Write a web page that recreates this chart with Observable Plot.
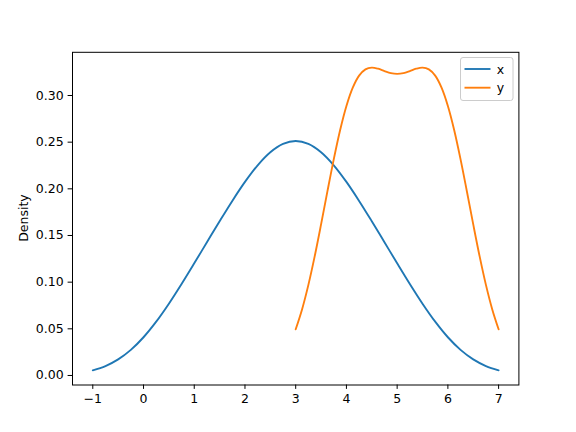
<!DOCTYPE html>
<html><head><meta charset="utf-8">
<script src="https://cdn.jsdelivr.net/npm/d3@7"></script>
<script src="https://cdn.jsdelivr.net/npm/@observablehq/plot@0.6"></script>
<style>body{margin:0;background:#fff} svg{font-family:"DejaVu Sans",sans-serif}</style>
</head><body><div id="chart"></div>
<script>
const xGrid = [-1,-0.75,-0.5,-0.25,0,0.25,0.5,0.75,1,1.25,1.5,1.75,2,2.25,2.5,2.75,3,3.25,3.5,3.75,4,4.25,4.5,4.75,5,5.25,5.5,5.75,6,6.25,6.5,6.75,7];
const xDensity = [0.00555,0.01013,0.01725,0.02745,0.04097,0.05766,0.07694,0.09805,0.12020,0.14277,0.16525,0.18708,0.20744,0.22524,0.23920,0.24814,0.25122,0.24814,0.23920,0.22524,0.20744,0.18708,0.16525,0.14277,0.12020,0.09805,0.07694,0.05766,0.04097,0.02745,0.01725,0.01013,0.00555];
const yGrid = [3,3.125,3.25,3.375,3.5,3.625,3.75,3.875,4,4.125,4.25,4.375,4.5,4.625,4.75,4.875,5,5.125,5.25,5.375,5.5,5.625,5.75,5.875,6,6.125,6.25,6.375,6.5,6.625,6.75,6.875,7];
const yDensity = [0.04948,0.07076,0.09708,0.12787,0.16186,0.19720,0.23161,0.26280,0.28881,0.30843,0.32132,0.32804,0.32993,0.32871,0.32622,0.32403,0.32318,0.32403,0.32622,0.32871,0.32993,0.32804,0.32132,0.30843,0.28881,0.26280,0.23161,0.19720,0.16186,0.12787,0.09708,0.07076,0.04948];
const seriesNames = ["x","y"];
const seriesColors = ["#1f77b4","#ff7f0e"];
const xTicks = [-1,0,1,2,3,4,5,6,7];
const yTicks = [0,0.05,0.10,0.15,0.20,0.25,0.30];
const yLabel = "Density";

const rows = [
  ...xGrid.map((g,i)=>({series:"x", t:g, d:xDensity[i]})),
  ...yGrid.map((g,i)=>({series:"y", t:g, d:yDensity[i]}))
];

const plot = Plot.plot({
  width:576, height:432,
  marginLeft:72, marginRight:57.6, marginTop:51.8, marginBottom:47.5,
  style:{fontFamily:"DejaVu Sans, sans-serif", fontSize:"12.5px", background:"white", color:"black"},
  x:{domain:[-1.4,7.4]},
  y:{domain:[-0.0102,0.3463]},
  color:{domain:seriesNames, range:seriesColors},
  marks:[
    Plot.line(rows,{x:"t", y:"d", stroke:"series", z:"series", strokeWidth:1.875, curve:"catmull-rom"}),
    Plot.frame({stroke:"black", strokeWidth:1}),
    Plot.axisX({ticks:xTicks, tickSize:4.4, tickPadding:4.4, label:null, fontSize:12.5,
      tickFormat:d=> d<0 ? "\u2212"+Math.abs(d) : String(d)}),
    Plot.axisY({ticks:yTicks, tickSize:4.4, tickPadding:4.4, label:null, fontSize:12.5,
      tickFormat:d=>d.toFixed(2)})
  ]
});

const svg = d3.select(plot);
svg.append("text")
  .attr("transform","translate(23,218) rotate(-90)")
  .attr("text-anchor","middle").attr("dominant-baseline","central")
  .attr("font-size",12.5).attr("fill","black").text(yLabel);

const lg = svg.append("g");
lg.append("rect").attr("x",460.5).attr("y",57.5).attr("width",52.5).attr("height",43)
  .attr("rx",2.5).attr("fill","white").attr("fill-opacity",0.8).attr("stroke","#cccccc").attr("stroke-width",1);
seriesNames.forEach((n,i)=>{
  const yy = 69 + i*18.7;
  lg.append("line").attr("x1",464.5).attr("x2",490.5).attr("y1",yy).attr("y2",yy)
    .attr("stroke",seriesColors[i]).attr("stroke-width",1.875);
  lg.append("text").attr("x",500.5).attr("y",yy).attr("dominant-baseline","central")
    .attr("font-size",12.5).attr("fill","black").text(n);
});

document.getElementById("chart").appendChild(plot);
</script>
</body></html>
